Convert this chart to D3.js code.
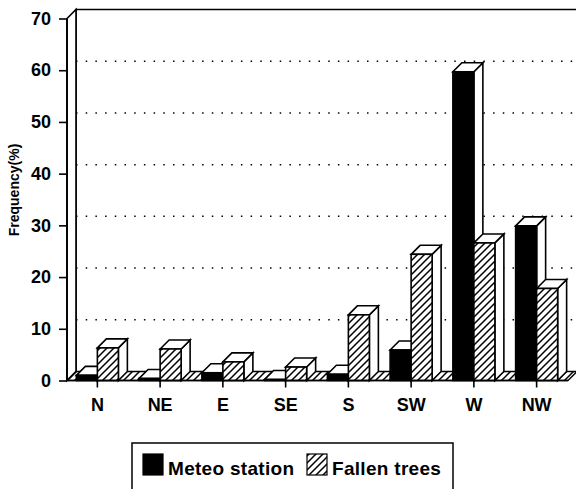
<!DOCTYPE html>
<html>
<head>
<meta charset="utf-8">
<script src="https://cdn.jsdelivr.net/npm/d3@7/dist/d3.min.js"></script>
<style>
  body { margin: 0; background: #fff; }
  text { font-family: "Liberation Sans", Arial, sans-serif; font-weight: bold; fill: #000; }
</style>
</head>
<body>
<div id="chart"></div>
<script>
const width = 576
const height = 489

// data
const directions = ["N", "NE", "E", "SE", "S", "SW", "W", "NW"]
const seriesNames = ["Meteo station", "Fallen trees"]
const meteo = [1.0, 0.4, 1.5, 0.2, 1.2, 5.9, 59.7, 29.9]
const fallen = [6.3, 6.1, 3.6, 2.6, 12.7, 24.4, 26.6, 17.8]
const yTicks = [0, 10, 20, 30, 40, 50, 60, 70]

// 3d offset of the box
const dx = 9, dy = -9

let svg = d3.select("#chart")
            .append("svg")
            .attr("width", width)
            .attr("height", height)

let defs = svg.append("defs")
let pat = defs.append("pattern")
              .attr("id", "hatch")
              .attr("patternUnits", "userSpaceOnUse")
              .attr("width", 7)
              .attr("height", 7)
pat.append("rect").attr("width", 7).attr("height", 7).attr("fill", "#fff")
pat.append("path")
   .attr("d", "M-1,8 L8,-1 M-2,2 L2,-2 M5,9 L9,5")
   .attr("stroke", "#000")
   .attr("stroke-width", 1.5)

let x = d3.scaleBand()
          .domain(directions)
          .range([66, 568])

let xs = d3.scaleBand()
           .domain(seriesNames)
           .range([0, 42])

let y = d3.scaleLinear()
          .domain([0, 70])
          .range([380.5, 18.5])

const x0 = x.range()[0] + 1, x1 = x.range()[1]
const y0 = y(0), yTop = y(70)

// back wall
svg.append("path")
   .attr("d", `M${x0+dx},${y0+dy} L${x0+dx},${yTop+dy} L${width},${yTop+dy}`)
   .attr("fill", "none")
   .attr("stroke", "#000")
   .attr("stroke-width", 1.6)

// gridlines
svg.append("g")
   .selectAll("line")
   .data(yTicks.filter(d => d > 0 && d < 70))
   .enter()
   .append("line")
   .attr("x1", x0 + dx)
   .attr("x2", width)
   .attr("y1", d => y(d) + dy)
   .attr("y2", d => y(d) + dy)
   .attr("stroke", "#000")
   .attr("stroke-width", 1.5)
   .attr("stroke-dasharray", "1.5,8.2")

// left wall
svg.append("path")
   .attr("d", `M${x0},${y0} L${x0},${yTop} L${x0+dx},${yTop+dy} L${x0+dx},${y0+dy} Z`)
   .attr("fill", "#fff")
   .attr("stroke", "#000")
   .attr("stroke-width", 1.6)

// floor
svg.append("path")
   .attr("d", `M${x0},${y0} L${x1},${y0} L${x1+dx},${y0+dy} L${x0+dx},${y0+dy} Z`)
   .attr("fill", "url(#hatch)")
   .attr("stroke", "#000")
   .attr("stroke-width", 1.3)

// bars
function bar(g, bx, bw, v, fill) {
  let yt = y(v)
  // side
  g.append("path")
   .attr("d", `M${bx+bw},${y0} L${bx+bw},${yt} L${bx+bw+dx},${yt+dy} L${bx+bw+dx},${y0+dy} Z`)
   .attr("fill", "#fff").attr("stroke", "#000").attr("stroke-width", 1.6)
  // top
  g.append("path")
   .attr("d", `M${bx},${yt} L${bx+dx},${yt+dy} L${bx+bw+dx},${yt+dy} L${bx+bw},${yt} Z`)
   .attr("fill", "#fff").attr("stroke", "#000").attr("stroke-width", 1.6)
  // front
  g.append("rect")
   .attr("x", bx).attr("y", yt)
   .attr("width", bw).attr("height", y0 - yt)
   .attr("fill", fill).attr("stroke", "#000").attr("stroke-width", 1.6)
}

let bars = svg.append("g")
directions.forEach(function(d, i) {
  let g = bars.append("g")
  let off = x(d) + (x.bandwidth() - xs.range()[1]) / 2
  bar(g, off + xs("Meteo station"), xs.bandwidth(), meteo[i], "#000")
  bar(g, off + xs("Fallen trees"), xs.bandwidth(), fallen[i], "url(#hatch)")
})

// axes
let yAxis = svg.append("g")
   .attr("transform", `translate(${x0},0)`)
   .call(d3.axisLeft(y).tickValues(yTicks).tickSize(8).tickPadding(8))
yAxis.select(".domain").remove()
yAxis.selectAll("line").attr("stroke-width", 1.6)
yAxis.selectAll("text").style("font-size", "18px").attr("font-family", null)

let xAxis = svg.append("g")
   .attr("transform", `translate(0,${y0})`)
   .call(d3.axisBottom(x).tickSize(7).tickPadding(11))
xAxis.select(".domain").remove()
xAxis.selectAll("line").attr("stroke-width", 1.6)
xAxis.selectAll("text").style("font-size", "18px").attr("font-family", null)

// front axis lines
svg.append("line")
   .attr("x1", x0).attr("x2", x0)
   .attr("y1", y0).attr("y2", yTop)
   .attr("stroke", "#000").attr("stroke-width", 1.8)
svg.append("line")
   .attr("x1", x0).attr("x2", x1)
   .attr("y1", y0).attr("y2", y0)
   .attr("stroke", "#000").attr("stroke-width", 1.5)

// y title
svg.append("text")
   .attr("transform", "translate(19,190) rotate(-90)")
   .attr("text-anchor", "middle")
   .style("font-size", "14px")
   .text("Frequency(%)")

// legend
let legend = svg.append("g").attr("id", "legend")
legend.append("rect")
      .attr("x", 132).attr("y", 443)
      .attr("width", 321).attr("height", 60)
      .attr("fill", "#fff").attr("stroke", "#000").attr("stroke-width", 1.5)
const legX = [143, 307]
const legFill = ["#000", "url(#hatch)"]
seriesNames.forEach(function(s, i) {
  legend.append("rect")
        .attr("x", legX[i]).attr("y", 454)
        .attr("width", 20).attr("height", 21)
        .attr("fill", legFill[i]).attr("stroke", "#000").attr("stroke-width", 1.2)
  legend.append("text")
        .attr("x", legX[i] + 25).attr("y", 475)
        .style("font-size", "19px")
        .style("letter-spacing", "0.3px")
        .text(s)
})
</script>
</body>
</html>
